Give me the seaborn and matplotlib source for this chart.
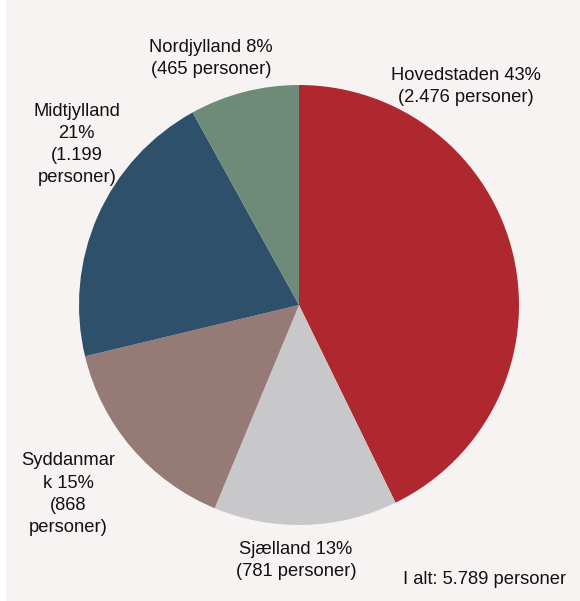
import matplotlib
matplotlib.use("Agg")
import matplotlib.pyplot as plt
import seaborn as sns
from matplotlib.patches import Rectangle

regions = ["Hovedstaden", "Sjælland", "Syddanmark", "Midtjylland", "Nordjylland"]
persons = [2476, 781, 868, 1199, 465]
pct_labels = ["43%", "13%", "15%", "21%", "8%"]
count_labels = ["2.476", "781", "868", "1.199", "465"]
label_texts = [
    "Hovedstaden 43%\n(2.476 personer)",
    "Sjælland 13%\n(781 personer)",
    "Syddanmar\nk 15%\n(868\npersoner)",
    "Midtjylland\n21%\n(1.199\npersoner)",
    "Nordjylland 8%\n(465 personer)",
]
total_text = "I alt: 5.789 personer"
colors = ["#B0282F", "#C8C8CA", "#957A76", "#2F506B", "#6D8B78"]

# label layout (pie-radius units relative to center)
label_pos = [(0.76, 0.995), (-0.014, -1.16), (-1.05, -0.86), (-1.01, 0.73), (-0.40, 1.12)]

sns.set_theme(style="white")
plt.rcParams["font.family"] = ["Liberation Sans", "DejaVu Sans"]

bg = "#F7F3F2"
fig = plt.figure(figsize=(5.80, 6.01), dpi=100, facecolor=bg)
fig.patches.append(Rectangle((0, 0), 6 / 580, 1, transform=fig.transFigure,
                             facecolor="white", edgecolor="none", zorder=-1))
ax = fig.add_axes([0, 0, 1, 1])
ax.set_facecolor("none")

ax.pie(persons, colors=colors, startangle=90, counterclock=False,
       radius=1.0, center=(0, 0), wedgeprops=dict(linewidth=0))

for txt, (x, y) in zip(label_texts, label_pos):
    ax.text(x, y, txt, ha="center", va="center", fontsize=13.2,
            color="#111111", linespacing=1.4)

ax.text(1.215, -1.25, total_text, ha="right", va="center", fontsize=13.2, color="#111111")

cx, cy, r = 299, 305, 220
ax.set_xlim((0 - cx) / r, (580 - cx) / r)
ax.set_ylim((cy - 601) / r, cy / r)
ax.set_aspect("equal")
ax.axis("off")

fig.savefig("out.png", dpi=100, facecolor=bg)
